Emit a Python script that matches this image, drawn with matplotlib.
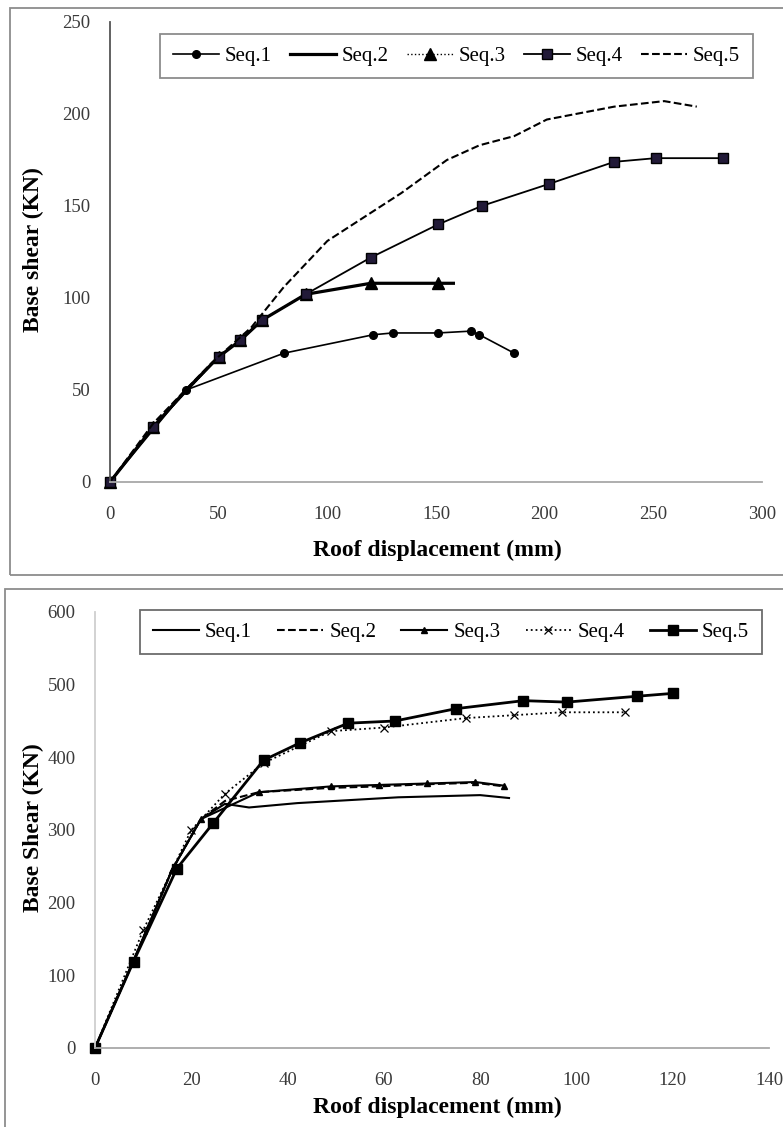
import numpy as np
import matplotlib
matplotlib.use('Agg')
import matplotlib.pyplot as plt
from matplotlib.patches import Rectangle

plt.rcParams['font.family'] = ['Liberation Serif', 'DejaVu Serif']

# ---- top chart data (roof displacement mm, base shear KN)
t1_x = [0, 35, 80, 121, 130, 151, 166, 170, 186]
t1_y = [0, 50, 70, 80, 81, 81, 82, 80, 70]
t2_x = [0, 20, 35, 50, 60, 70, 90, 120, 151, 158]
t2_y = [0, 30, 50, 68, 77, 88, 102, 108, 108, 108]
t3_x = [0, 20, 50, 60, 70, 90, 120, 151]
t3_y = [0, 30, 68, 77, 88, 102, 108, 108]
t4_x = [0, 20, 50, 60, 70, 90, 120, 151, 171, 202, 232, 251, 282]
t4_y = [0, 30, 68, 77, 88, 102, 122, 140, 150, 162, 174, 176, 176]
t5_x = [0, 20, 47, 65, 80, 100, 134, 155, 170, 186, 201, 232, 255, 270]
t5_y = [0, 32, 65, 84, 106, 131, 157, 175, 183, 188, 197, 204, 207, 204]

# ---- bottom chart data
b1_x = [0, 8, 16, 22, 27, 32, 42, 63, 80, 86]
b1_y = [0, 120, 245, 315, 336, 331, 337, 345, 348, 344]
b2_x = [0, 8, 16, 22, 27, 34, 49, 59, 69, 79, 85]
b2_y = [0, 120, 245, 315, 340, 352, 358, 360, 363, 365, 360]
b3_x = [0, 8, 16, 22, 34, 49, 59, 69, 79, 85]
b3_y = [0, 120, 245, 315, 352, 360, 362, 364, 366, 361]
b4_x = [0, 10, 20, 27, 35, 49, 60, 77, 87, 97, 110]
b4_y = [0, 162, 300, 350, 392, 436, 441, 454, 458, 462, 462]
b5_x = [0, 8, 17, 24.5, 35, 42.6, 52.6, 62.3, 75, 89, 98, 112.5, 120]
b5_y = [0, 119, 247, 309, 396, 420, 447, 450, 467, 478, 476, 484, 488]

labels = ['Seq.1', 'Seq.2', 'Seq.3', 'Seq.4', 'Seq.5']

W, H = 783, 1127
fig = plt.figure(figsize=(W / 100, H / 100), dpi=100)

def px_axes(x0, y0, x1, y1):
    return fig.add_axes([x0 / W, 1 - y1 / H, (x1 - x0) / W, (y1 - y0) / H])

def style_axes(ax, leftcol):
    for s in ['top', 'right']:
        ax.spines[s].set_visible(False)
    ax.spines['left'].set_color(leftcol)
    ax.spines['left'].set_linewidth(1.3)
    ax.spines['bottom'].set_color('#a8a8a8')
    ax.spines['bottom'].set_linewidth(1.3)
    ax.tick_params(axis='both', length=0, labelsize=13.5, colors='#3a3a3a')
    ax.tick_params(axis='y', pad=14)
    ax.tick_params(axis='x', pad=17)

# panel frames
fig.patches.append(Rectangle((10 / W, 1 - 575 / H), 790 / W, 567 / H, transform=fig.transFigure,
                             fill=False, edgecolor='#8c8c8c', lw=1.3))
fig.patches.append(Rectangle((5 / W, -0.05), 800 / W, (1127 - 589) / H + 0.05, transform=fig.transFigure,
                             fill=False, edgecolor='#8c8c8c', lw=1.3))

# ---------------- top chart
ax1 = px_axes(110, 22, 762, 482)
k = dict(color='black', clip_on=False)
ax1.plot(t1_x, t1_y, '-', lw=1.2, marker='o', ms=5.5, label=labels[0], **k)
ax1.plot(t2_x, t2_y, '-', lw=2.3, label=labels[1], **k)
ax1.plot(t3_x, t3_y, ':', lw=1.0, marker='^', ms=9, label=labels[2], **k)
ax1.plot(t4_x, t4_y, '-', lw=1.3, marker='s', ms=6.5, mfc='#221a38', label=labels[3], **k)
ax1.plot(t5_x, t5_y, '--', lw=1.5, label=labels[4], **k)
ax1.set_xlim(0, 300)
ax1.set_ylim(0, 250)
ax1.set_xticks(range(0, 301, 50))
ax1.set_yticks(range(0, 251, 50))
style_axes(ax1, '#555555')

leg1 = ax1.legend(ncol=5, loc='center', mode='expand',
                  bbox_to_anchor=(150 / W, 1 - 85 / H, 613 / W, 58 / H), bbox_transform=fig.transFigure,
                  fontsize=15, handlelength=2.2, handletextpad=0.3, columnspacing=1.0,
                  fancybox=False, framealpha=1, borderpad=0.6)
leg1.get_frame().set_edgecolor('#8c8c8c')
leg1.get_frame().set_linewidth(1.3)

fig.text(437 / W, 1 - 550 / H, 'Roof displacement (mm)', ha='center', va='center',
         fontsize=17, fontweight='bold')
fig.text(33 / W, 1 - 250 / H, 'Base shear (KN)', ha='center', va='center',
         rotation=90, fontsize=17, fontweight='bold')

# ---------------- bottom chart
ax2 = px_axes(95, 612, 769, 1048)
ax2.plot(b1_x, b1_y, '-', lw=1.5, label=labels[0], **k)
ax2.plot(b2_x, b2_y, '--', lw=1.5, label=labels[1], **k)
ax2.plot(b3_x, b3_y, '-', lw=1.5, marker='^', ms=5, label=labels[2], **k)
ax2.plot(b4_x, b4_y, ':', lw=1.3, marker='x', ms=6, mew=0.9, label=labels[3], **k)
ax2.plot(b5_x, b5_y, '-', lw=2.0, marker='s', ms=6.5, label=labels[4], **k)
ax2.set_xlim(0, 140)
ax2.set_ylim(0, 600)
ax2.set_xticks(range(0, 141, 20))
ax2.set_yticks(range(0, 601, 100))
style_axes(ax2, '#cfcfcf')

leg2 = ax2.legend(ncol=5, loc='center', mode='expand',
                  bbox_to_anchor=(130 / W, 1 - 659 / H, 642 / W, 54 / H), bbox_transform=fig.transFigure,
                  fontsize=15, handlelength=2.2, handletextpad=0.3, columnspacing=1.0,
                  fancybox=False, framealpha=1, borderpad=0.6)
leg2.get_frame().set_edgecolor('#6c6c6c')
leg2.get_frame().set_linewidth(1.3)

fig.text(437 / W, 1 - 1107 / H, 'Roof displacement (mm)', ha='center', va='center',
         fontsize=17, fontweight='bold')
fig.text(33 / W, 1 - 828 / H, 'Base Shear (KN)', ha='center', va='center',
         rotation=90, fontsize=17, fontweight='bold')

fig.savefig('out.png', dpi=100)
